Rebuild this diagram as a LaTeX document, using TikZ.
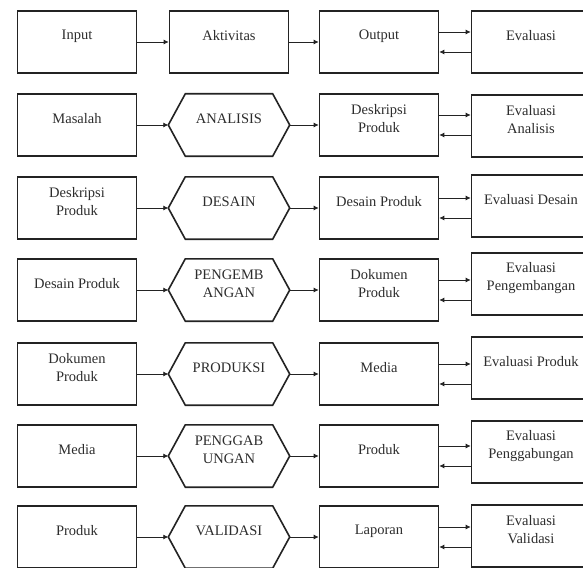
\documentclass[tikz,border=0pt]{standalone}
\usepackage{fontspec}
\setmainfont{Liberation Serif}
\usetikzlibrary{arrows.meta}
\definecolor{lineblack}{RGB}{35,35,35}
\definecolor{textgray}{RGB}{45,45,45}

\tikzset{
  stagebox/.style={draw=lineblack, line width=1.6pt, minimum width=119pt, minimum height=62pt, inner sep=0pt},
  hexbox/.style={minimum width=121pt, minimum height=62pt, inner sep=0pt},
  hexline/.style={draw=lineblack, line width=1.6pt},
  boxtext/.style={align=center, inner sep=0pt, text=textgray, font=\fontsize{14.5}{18}\selectfont},
  link/.style={draw=lineblack, line width=0.8pt, -{Latex[length=5pt,width=5pt]}}
}

% one row: #1 number, #2 y of the first three boxes, #3 y of the evaluation box,
% #4 input, #5 stage, #6 result, #7 evaluation
\newcommand{\stagerow}[7]{%
  \node[stagebox] (inp#1) at (77,#2) {};
  \node[hexbox] (act#1) at (229,#2) {};
  \draw[hexline] (act#1.west) -- ([xshift=17pt]act#1.north west) -- ([xshift=-17pt]act#1.north east)
      -- (act#1.east) -- ([xshift=-17pt]act#1.south east) -- ([xshift=17pt]act#1.south west) -- cycle;
  \node[stagebox] (out#1) at (379,#2) {};
  \node[stagebox] (eva#1) at (531,#3) {};
  \node[boxtext] (inpt#1) at ([yshift=6pt]inp#1.center) {#4};
  \node[boxtext] (actt#1) at ([yshift=6pt]act#1.center) {#5};
  \node[boxtext] (outt#1) at ([yshift=6pt]out#1.center) {#6};
  \node[boxtext] (evat#1) at ([yshift=6pt]eva#1.center) {#7};
  \draw[link] (inp#1.east) -- (act#1.west);
  \draw[link] (act#1.east) -- (out#1.west);
  \draw[link] ([yshift=10pt]out#1.east) -- ([yshift=10pt]out#1.east -| eva#1.west);
  \draw[link] ([yshift=-10pt]out#1.east -| eva#1.west) -- ([yshift=-10pt]out#1.east);
}

\begin{document}
\begin{tikzpicture}[x=1pt, y=-1pt]

% Background
\fill[white] (0,0) rectangle (583,567);
\useasboundingbox (0,0) rectangle (583,567);
\clip (0,0) rectangle (583,567);

% Header row
\node[stagebox] (inp1) at (77,42) {};
\node[stagebox] (act1) at (229,42) {};
\node[stagebox] (out1) at (379,42) {};
\node[stagebox] (eva1) at (531,42) {};
\node[boxtext] (inpt1) at ([yshift=6pt]inp1.center) {Input};
\node[boxtext] (actt1) at ([yshift=6pt]act1.center) {Aktivitas};
\node[boxtext] (outt1) at ([yshift=6pt]out1.center) {Output};
\node[boxtext] (evat1) at ([yshift=6pt]eva1.center) {Evaluasi};
\draw[link] (inp1.east) -- (act1.west);
\draw[link] (act1.east) -- (out1.west);
\draw[link] ([yshift=10pt]out1.east) -- ([yshift=10pt]out1.east -| eva1.west);
\draw[link] ([yshift=-10pt]out1.east -| eva1.west) -- ([yshift=-10pt]out1.east);

% Stage rows
\stagerow{2}{125}{126}{Masalah}{ANALISIS}{Deskripsi\\Produk}{Evaluasi\\Analisis}
\stagerow{3}{208}{206}{Deskripsi\\Produk}{DESAIN}{Desain Produk}{Evaluasi Desain}
\stagerow{4}{290}{284}{Desain Produk}{PENGEMB\\ANGAN}{Dokumen\\Produk}{Evaluasi\\Pengembangan}
\stagerow{5}{374}{368}{Dokumen\\Produk}{PRODUKSI}{Media}{Evaluasi Produk}
\stagerow{6}{456}{452}{Media}{PENGGAB\\UNGAN}{Produk}{Evaluasi\\Penggabungan}
\stagerow{7}{537}{536}{Produk}{VALIDASI}{Laporan}{Evaluasi\\Validasi}

\end{tikzpicture}
\end{document}
